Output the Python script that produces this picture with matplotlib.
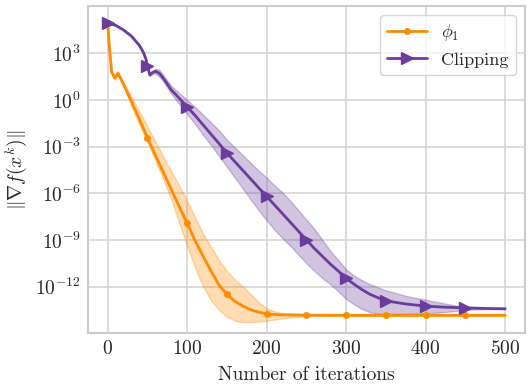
import matplotlib
matplotlib.use("Agg")
import matplotlib.pyplot as plt
import numpy as np
import seaborn as sns

sns.set_style("whitegrid")
plt.rcParams["font.family"] = "serif"
plt.rcParams["font.serif"] = ["cmr10", "DejaVu Serif"]
plt.rcParams["mathtext.fontset"] = "cm"
plt.rcParams["axes.formatter.use_mathtext"] = True

# phi_1 : log10 of gradient norm (mean, lower, upper)
phi_it = [0, 2, 5, 9, 13, 20, 30, 40, 50, 60, 70, 80, 90, 100, 110, 120, 130,
          140, 150, 160, 170, 180, 190, 200, 210, 220, 250, 300, 350, 400, 450, 500]
phi_mid = [4.95, 3.5, 1.8, 1.4, 1.72, 1.0, -0.1, -1.25, -2.42, -3.55, -4.65, -5.75,
           -6.85, -7.93, -9.05, -10.05, -11.0, -11.9, -12.5, -12.95, -13.25, -13.5,
           -13.65, -13.75, -13.8, -13.82, -13.84, -13.85, -13.85, -13.85, -13.85, -13.85]
phi_lo = [4.93, 3.4, 1.7, 1.3, 1.6, 0.85, -0.4, -1.6, -2.7, -3.9, -5.1, -6.4,
          -7.9, -9.4, -10.8, -12.0, -12.9, -13.5, -13.95, -14.2, -14.3, -14.3,
          -14.25, -14.2, -14.12, -14.05, -13.9, -13.87, -13.86, -13.86, -13.86, -13.86]
phi_hi = [4.98, 3.6, 1.95, 1.55, 1.85, 1.15, 0.2, -0.75, -1.7, -2.65, -3.65, -4.6,
          -5.5, -6.5, -7.55, -8.6, -9.45, -10.3, -11.0, -11.55, -12.0, -12.5,
          -13.0, -13.4, -13.6, -13.7, -13.8, -13.82, -13.84, -13.84, -13.84, -13.84]

# Clipping
clip_it = [0, 10, 20, 30, 40, 45, 48, 50, 53, 56, 60, 65, 70, 80, 90, 100, 110, 120,
           130, 140, 150, 160, 170, 180, 190, 200, 210, 220, 230, 240, 250, 260, 270,
           280, 290, 300, 310, 320, 330, 340, 350, 375, 400, 425, 450, 475, 500]
clip_mid = [4.97, 4.8, 4.5, 4.1, 3.5, 3.05, 2.65, 2.2, 1.6, 1.75, 1.85, 1.72, 1.4,
            0.65, 0.11, -0.44, -1.0, -1.6, -2.2, -2.8, -3.41, -3.97, -4.53, -5.09,
            -5.65, -6.2, -6.76, -7.32, -7.88, -8.44, -9.0, -9.55, -10.05, -10.55,
            -11.0, -11.48, -11.85, -12.2, -12.5, -12.72, -12.92, -13.12, -13.26,
            -13.33, -13.37, -13.41, -13.43]
clip_lo = [4.95, 4.77, 4.47, 4.06, 3.45, 3.0, 2.6, 2.15, 1.55, 1.65, 1.7, 1.5, 1.2,
           0.4, -0.25, -0.9, -1.55, -2.25, -2.9, -3.6, -4.3, -5.0, -5.7, -6.4, -7.1,
           -7.75, -8.35, -8.9, -9.4, -9.95, -10.5, -11.0, -11.45, -11.85, -12.3,
           -12.8, -13.15, -13.45, -13.65, -13.73, -13.75, -13.75, -13.73, -13.64,
           -13.5, -13.45, -13.44]
clip_hi = [4.99, 4.83, 4.53, 4.14, 3.55, 3.1, 2.7, 2.25, 1.65, 1.85, 2.0, 1.95, 1.6,
           0.9, 0.45, 0.0, -0.45, -0.95, -1.45, -1.95, -2.55, -3.05, -3.55, -4.05,
           -4.55, -5.0, -5.5, -5.95, -6.5, -7.1, -7.7, -8.3, -9.0, -9.7, -10.3,
           -10.9, -11.3, -11.6, -11.85, -12.05, -12.25, -12.6, -12.85, -13.1, -13.33,
           -13.42, -13.43]

orange = "#ff8c00"
purple = "#6a3d9a"

fig, ax = plt.subplots(figsize=(5.32, 3.92), dpi=100)

ax.fill_between(phi_it, 10.0 ** np.array(phi_lo), 10.0 ** np.array(phi_hi),
                color=orange, alpha=0.3, lw=1)
ax.fill_between(clip_it, 10.0 ** np.array(clip_lo), 10.0 ** np.array(clip_hi),
                color=purple, alpha=0.3, lw=1)

phi_mk = [phi_it.index(i) for i in range(0, 500, 50)]
clip_mk = [clip_it.index(i) for i in range(0, 500, 50)]
ax.plot(phi_it, 10.0 ** np.array(phi_mid), color=orange, lw=2, marker="o",
        ms=4, markevery=phi_mk, label=r"$\phi_1$")
ax.plot(clip_it, 10.0 ** np.array(clip_mid), color=purple, lw=2, marker=">",
        ms=8, markevery=clip_mk, label="Clipping")

ax.set_yscale("log")
ax.set_ylim(10 ** -15, 10 ** 6.05)
ax.set_xlim(-25, 525)
ax.set_yticks([10.0 ** k for k in range(-12, 4, 3)])
ax.minorticks_off()
ax.set_xticks([0, 100, 200, 300, 400, 500])
ax.tick_params(labelsize=14, length=0, pad=5)

ax.set_xlabel("Number of iterations", fontsize=14, labelpad=6)
ax.set_ylabel(r"$\|\nabla f(x^k)\|$", fontsize=14, labelpad=4)

for s in ax.spines.values():
    s.set_color("#cccccc")
    s.set_linewidth(1.5)
ax.grid(color="#d5d5d5", lw=1.2)

ax.legend(loc="upper right", fontsize=13, handlelength=2.2, framealpha=0.8)

fig.subplots_adjust(left=0.165, right=0.987, top=0.985, bottom=0.15)
fig.savefig("out.png", dpi=100)
